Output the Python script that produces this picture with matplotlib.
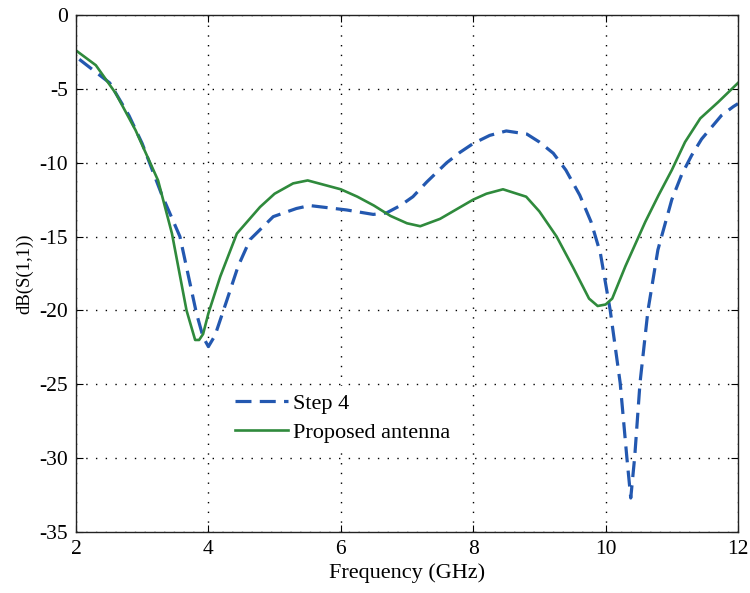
import numpy as np
import matplotlib
matplotlib.use('Agg')
import matplotlib.pyplot as plt

# values
freq_step4 = [2.05, 2.51, 2.8, 3.0, 3.29, 3.57, 3.82, 3.92, 4.0, 4.1, 4.28, 4.45, 4.63,
              4.98, 5.33, 5.53, 6.09, 6.49, 6.69, 6.9, 7.09, 7.3, 7.6, 7.8, 8.0, 8.25,
              8.5, 8.81, 9.0, 9.21, 9.4, 9.61, 9.78, 9.92, 10.07, 10.22, 10.32, 10.38,
              10.44, 10.52, 10.64, 10.79, 11.0, 11.15, 11.3, 11.45, 11.6, 11.75, 11.93, 12.0]
s11_step4 = [-3.0, -4.6, -6.8, -8.7, -12.1, -15.0, -20.2, -21.8, -22.45, -21.7,
             -19.3, -17.0, -15.2, -13.65, -13.1, -12.9, -13.2, -13.5, -13.4, -12.9,
             -12.3, -11.3, -10.0, -9.3, -8.7, -8.15, -7.85, -8.06, -8.6, -9.36, -10.5,
             -12.2, -14.0, -16.1, -20.0, -24.9, -29.9, -32.7, -29.9, -24.9, -20.0,
             -15.9, -12.5, -10.8, -9.5, -8.4, -7.6, -6.8, -6.2, -6.0]

freq_prop = [2.0, 2.3, 2.6, 2.9, 3.1, 3.24, 3.45, 3.67, 3.8, 3.86, 3.92, 4.0, 4.18,
             4.43, 4.78, 5.0, 5.28, 5.5, 6.0, 6.25, 6.5, 6.75, 7.0, 7.2, 7.5, 8.0,
             8.2, 8.45, 8.8, 9.0, 9.26, 9.51, 9.75, 9.88, 10.0, 10.1, 10.3, 10.5,
             10.6, 10.8, 11.0, 11.2, 11.43, 11.7, 12.0]
s11_prop = [-2.4, -3.4, -5.3, -7.8, -9.8, -11.2, -14.8, -20.0, -22.0, -22.0, -21.6,
            -20.2, -17.7, -14.8, -13.0, -12.1, -11.4, -11.2, -11.8, -12.3, -12.9,
            -13.6, -14.1, -14.3, -13.8, -12.5, -12.1, -11.8, -12.3, -13.3, -15.0,
            -17.1, -19.2, -19.7, -19.6, -19.2, -17.0, -15.0, -14.0, -12.2, -10.5,
            -8.6, -7.0, -5.9, -4.6]

x_ticks = [2, 4, 6, 8, 10, 12]
y_ticks = [0, -5, -10, -15, -20, -25, -30, -35]

plt.rcParams['font.family'] = ['Liberation Serif', 'DejaVu Serif']
plt.rcParams['axes.unicode_minus'] = False

fig = plt.figure(figsize=(7.5, 5.93), dpi=100)
ax = fig.add_axes([0.1013, 0.1029, 0.8827, 0.8718])

ax.plot(freq_step4, s11_step4, color='#2358b0', linewidth=2.3,
        linestyle=(0, (5, 2.6)), label='Step 4')
ax.plot(freq_prop, s11_prop, color='#2f8a3c', linewidth=1.9,
        label='Proposed antenna')

ax.set_xlim(2, 12)
ax.set_ylim(-35, 0)
ax.set_xticks(x_ticks)
ax.set_yticks(y_ticks)
ax.grid(True, linestyle=(0, (1, 6)), color='black', linewidth=1.0)
ax.tick_params(direction='in', length=5, top=True, right=True, labelsize=15.5, pad=6)
for sp in ax.spines.values():
    sp.set_color('#222222')
    sp.set_linewidth(1.0)

ax.set_xlabel('Frequency (GHz)', fontsize=16, labelpad=3)
ax.set_ylabel('dB(S(1,1))', fontsize=13.5, labelpad=4)

leg = ax.legend(loc='center left', bbox_to_anchor=(0.230, 0.2205), fontsize=16,
                frameon=True, fancybox=False, framealpha=1, edgecolor='none',
                facecolor='white', borderpad=0.3, borderaxespad=0,
                handlelength=2.4, handletextpad=0.2, labelspacing=0.4)

fig.savefig('out.png', dpi=100)
